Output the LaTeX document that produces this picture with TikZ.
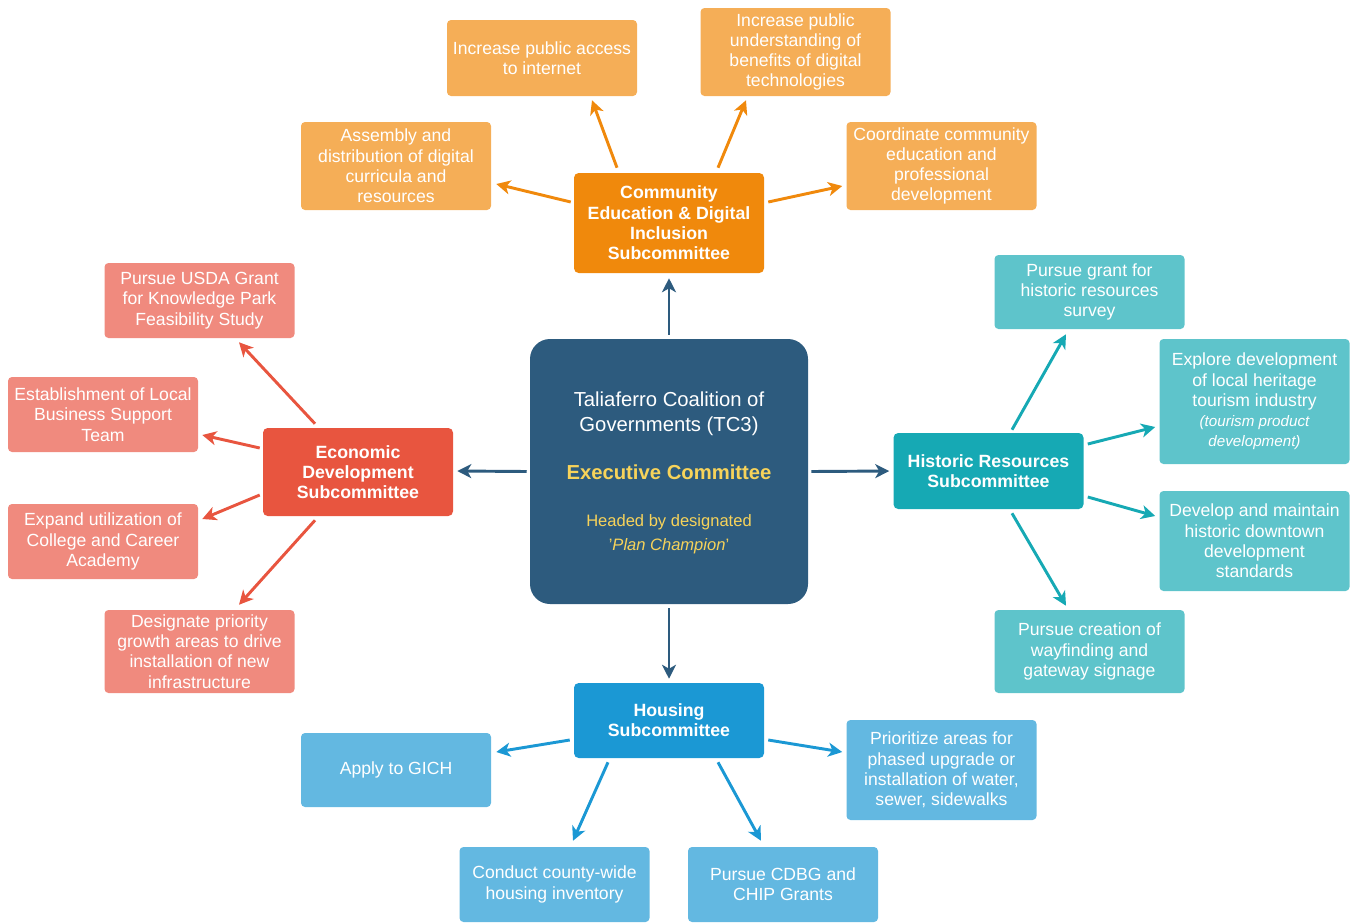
\documentclass[tikz,border=0pt]{standalone}
\usepackage{fontspec}
\setmainfont{Liberation Sans}
\usetikzlibrary{arrows.meta,calc}
\definecolor{cdark}{HTML}{2D5B7E}
\definecolor{cyel}{HTML}{F7D35A}
\definecolor{corg}{HTML}{F0890C}
\definecolor{corgl}{HTML}{F5AE57}
\definecolor{cred}{HTML}{E8553F}
\definecolor{credl}{HTML}{F08A7E}
\definecolor{ctea}{HTML}{16A9B4}
\definecolor{cteal}{HTML}{5EC4CB}
\definecolor{cblu}{HTML}{1B98D4}
\definecolor{cblul}{HTML}{63B8E1}
\tikzset{
  box/.style={rounded corners=3pt, align=center, text=white, minimum width=142.5pt, inner sep=1pt, font=\fontsize{13.2}{15.2}\selectfont},
  sub/.style={box, rounded corners=3.5pt, font=\bfseries\fontsize{13.3}{15.2}\selectfont},
  arr/.style={line width=2.2pt, -{Stealth[length=10.5pt,width=10.5pt,inset=3pt]}},
  ctext/.style={text=white, font=\fontsize{15.2}{18}\selectfont, inner sep=0pt},
}
\begin{document}
\begin{tikzpicture}[x=0.75pt,y=-0.75pt]
\useasboundingbox (0,0) rectangle (1355,922);
% central
\node[fill=cdark, rounded corners=15pt, minimum width=208.5pt, minimum height=198.75pt] (cen) at (669,471.5) {};
\node[ctext, anchor=base] (c1) at (669,406) {Taliaferro Coalition of};
\node[ctext, anchor=base] (c2) at (669,431) {Governments (TC3)};
\node[ctext, anchor=base, text=cyel, font=\bfseries\fontsize{15.2}{18}\selectfont] (c3) at (669,479) {Executive Committee};
\node[ctext, anchor=base, text=cyel, font=\fontsize{12.4}{15}\selectfont] (c4) at (669,526) {Headed by designated};
\node[ctext, anchor=base, text=cyel, font=\fontsize{12.4}{15}\selectfont] (c5) at (669,550) {'\textit{Plan Champion}'};
% subcommittees
\node[sub, fill=corg, minimum height=75pt] (ced) at (669,223) {Community\\Education \& Digital\\Inclusion\\Subcommittee};
\node[sub, fill=cred, minimum height=66pt] (eco) at (358,472) {Economic\\Development\\Subcommittee};
\node[sub, fill=ctea, minimum height=57pt] (his) at (988.5,471) {Historic Resources\\Subcommittee};
\node[sub, fill=cblu, minimum height=56.25pt] (hou) at (669,720.5) {Housing\\Subcommittee};
% orange leaves
\node[box, fill=corgl, minimum height=57pt] (o1) at (542,58) {Increase public access\\to internet};
\node[box, fill=corgl, minimum height=66pt] (o2) at (795.5,52) {Increase public\\understanding of\\benefits of digital\\technologies};
\node[box, fill=corgl, minimum height=66pt] (o3) at (396,166) {Assembly and\\distribution of digital\\curricula and\\resources};
\node[box, fill=corgl, minimum height=66pt] (o4) at (941.5,166) {Coordinate community\\education and\\professional\\development};
% red leaves
\node[box, fill=credl, minimum height=56.25pt] (r1) at (199.5,300.5) {Pursue USDA Grant\\for Knowledge Park\\Feasibility Study};
\node[box, fill=credl, minimum height=56.25pt] (r2) at (103,414.5) {Establishment of Local\\Business Support\\Team};
\node[box, fill=credl, minimum height=56.25pt] (r3) at (103,541.5) {Expand utilization of\\College and Career\\Academy};
\node[box, fill=credl, minimum height=62.25pt] (r4) at (199.5,651.5) {Designate priority\\growth areas to drive\\installation of new\\infrastructure};
% teal leaves
\node[box, fill=cteal, minimum height=55.5pt] (t1) at (1089.5,292) {Pursue grant for\\historic resources\\survey};
\node[box, fill=cteal, minimum height=93.75pt] (t2) at (1254.5,401.5) {Explore development\\of local heritage\\tourism industry\\{\itshape\fontsize{11.4}{15}\selectfont (tourism product}\\{\itshape\fontsize{11.4}{15}\selectfont development)}};
\node[box, fill=cteal, minimum height=75pt] (t3) at (1254.5,541) {Develop and maintain\\historic downtown\\development\\standards};
\node[box, fill=cteal, minimum height=62.25pt] (t4) at (1089.5,651.5) {Pursue creation of\\wayfinding and\\gateway signage};
% blue leaves
\node[box, fill=cblul, minimum height=55.5pt] (b1) at (396,770) {Apply to GICH};
\node[box, fill=cblul, minimum height=56.25pt] (b2) at (554.5,884.5) {Conduct county-wide\\housing inventory};
\node[box, fill=cblul, minimum height=56.25pt] (b3) at (783,884.5) {Pursue CDBG and\\CHIP Grants};
\node[box, fill=cblul, minimum height=75pt] (b4) at (941.5,770) {Prioritize areas for\\phased upgrade or\\installation of water,\\sewer, sidewalks};
% central arrows
\draw[arr, cdark] ($(cen.north)+(0,-4)$) -- ($(ced.south)+(0,5)$);
\draw[arr, cdark] ($(cen.west)+(-3,0)$) -- ($(eco.east)+(4,-1)$);
\draw[arr, cdark] ($(cen.east)+(3,0)$) -- ($(his.west)+(-4,0)$);
\draw[arr, cdark] ($(cen.south)+(0,4)$) -- ($(hou.north)+(0,-4)$);
% orange arrows
\draw[arr, corg] ($(ced.north)+(-52,-5)$) -- ($(o1.south)+(50,4)$);
\draw[arr, corg] ($(ced.north)+(49,-5)$) -- ($(o2.south)+(-49.5,4)$);
\draw[arr, corg] ($(ced.west)+(-3,-21)$) -- ($(o3.east)+(5,18)$);
\draw[arr, corg] ($(ced.east)+(4,-21)$) -- ($(o4.west)+(-4,20)$);
% red arrows
\draw[arr, cred] ($(eco.north)+(-43,-4)$) -- ($(r1.south)+(39.5,4)$);
\draw[arr, cred] ($(eco.west)+(-3,-24)$) -- ($(r2.east)+(4,20.5)$);
\draw[arr, cred] ($(eco.west)+(-3,23)$) -- ($(r3.east)+(4,-22.5)$);
\draw[arr, cred] ($(eco.south)+(-43,4)$) -- ($(r4.north)+(39.5,-5)$);
% teal arrows
\draw[arr, ctea] ($(his.north)+(23.5,-3)$) -- ($(t1.south)+(-23.5,5)$);
\draw[arr, ctea] ($(his.east)+(4,-27)$) -- ($(t2.west)+(-4,25.5)$);
\draw[arr, ctea] ($(his.east)+(4,26)$) -- ($(t3.west)+(-4,-25)$);
\draw[arr, ctea] ($(his.south)+(23.5,4)$) -- ($(t4.north)+(-23.5,-4)$);
% blue arrows
\draw[arr, cblu] ($(hou.west)+(-4,19.5)$) -- ($(b1.east)+(5,-18)$);
\draw[arr, cblu] ($(hou.south)+(-61,4)$) -- ($(b2.north)+(18.5,-6)$);
\draw[arr, cblu] ($(hou.south)+(49,4)$) -- ($(b3.north)+(-22,-6)$);
\draw[arr, cblu] ($(hou.east)+(4,19.5)$) -- ($(b4.west)+(-4,-18)$);
\end{tikzpicture}
\end{document}
